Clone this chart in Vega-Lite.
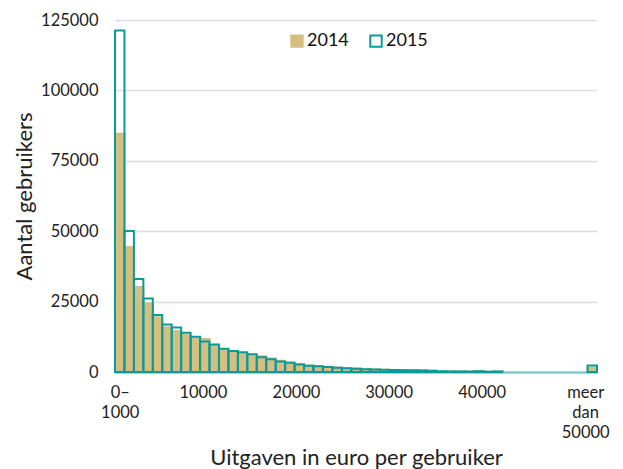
{
  "$schema": "https://vega.github.io/schema/vega-lite/v6.json",
  "autosize": {"type": "none"},
  "width": 482,
  "height": 352,
  "padding": {"left": 115, "top": 20, "right": 26, "bottom": 97},
  "background": "white",
  "config": {
    "font": "Lato",
    "view": {"stroke": null},
    "axis": {"labelColor": "#222", "titleColor": "#222", "titleFontWeight": "normal"}
  },
  "datasets": {
    "bins": [
      {"van": 0, "tot": 1000, "jaar": "2014", "aantal": 84600},
      {"van": 1000, "tot": 2000, "jaar": "2014", "aantal": 44400},
      {"van": 2000, "tot": 3000, "jaar": "2014", "aantal": 30200},
      {"van": 3000, "tot": 4000, "jaar": "2014", "aantal": 24300},
      {"van": 4000, "tot": 5000, "jaar": "2014", "aantal": 19400},
      {"van": 5000, "tot": 6000, "jaar": "2014", "aantal": 15900},
      {"van": 6000, "tot": 7000, "jaar": "2014", "aantal": 14600},
      {"van": 7000, "tot": 8000, "jaar": "2014", "aantal": 13100},
      {"van": 8000, "tot": 9000, "jaar": "2014", "aantal": 11900},
      {"van": 9000, "tot": 10000, "jaar": "2014", "aantal": 11700},
      {"van": 10000, "tot": 11000, "jaar": "2014", "aantal": 9600},
      {"van": 11000, "tot": 12000, "jaar": "2014", "aantal": 8000},
      {"van": 12000, "tot": 13000, "jaar": "2014", "aantal": 7200},
      {"van": 13000, "tot": 14000, "jaar": "2014", "aantal": 6600},
      {"van": 14000, "tot": 15000, "jaar": "2014", "aantal": 6000},
      {"van": 15000, "tot": 16000, "jaar": "2014", "aantal": 5600},
      {"van": 16000, "tot": 17000, "jaar": "2014", "aantal": 4800},
      {"van": 17000, "tot": 18000, "jaar": "2014", "aantal": 4000},
      {"van": 18000, "tot": 19000, "jaar": "2014", "aantal": 3400},
      {"van": 19000, "tot": 20000, "jaar": "2014", "aantal": 2800},
      {"van": 20000, "tot": 21000, "jaar": "2014", "aantal": 2350},
      {"van": 21000, "tot": 22000, "jaar": "2014", "aantal": 2100},
      {"van": 22000, "tot": 23000, "jaar": "2014", "aantal": 1850},
      {"van": 23000, "tot": 24000, "jaar": "2014", "aantal": 1600},
      {"van": 24000, "tot": 25000, "jaar": "2014", "aantal": 1350},
      {"van": 25000, "tot": 26000, "jaar": "2014", "aantal": 1200},
      {"van": 26000, "tot": 27000, "jaar": "2014", "aantal": 1000},
      {"van": 27000, "tot": 28000, "jaar": "2014", "aantal": 850},
      {"van": 28000, "tot": 29000, "jaar": "2014", "aantal": 800},
      {"van": 29000, "tot": 30000, "jaar": "2014", "aantal": 750},
      {"van": 30000, "tot": 31000, "jaar": "2014", "aantal": 600},
      {"van": 31000, "tot": 32000, "jaar": "2014", "aantal": 550},
      {"van": 32000, "tot": 33000, "jaar": "2014", "aantal": 500},
      {"van": 33000, "tot": 34000, "jaar": "2014", "aantal": 400},
      {"van": 34000, "tot": 35000, "jaar": "2014", "aantal": 250},
      {"van": 35000, "tot": 36000, "jaar": "2014", "aantal": 200},
      {"van": 36000, "tot": 37000, "jaar": "2014", "aantal": 180},
      {"van": 37000, "tot": 38000, "jaar": "2014", "aantal": 150},
      {"van": 38000, "tot": 39000, "jaar": "2014", "aantal": 250},
      {"van": 39000, "tot": 40000, "jaar": "2014", "aantal": 100},
      {"van": 40000, "tot": 41000, "jaar": "2014", "aantal": 150},
      {"van": 50000, "tot": 51000, "jaar": "2014", "aantal": 1600},
      {"van": 0, "tot": 1000, "jaar": "2015", "aantal": 121300},
      {"van": 1000, "tot": 2000, "jaar": "2015", "aantal": 50100},
      {"van": 2000, "tot": 3000, "jaar": "2015", "aantal": 33000},
      {"van": 3000, "tot": 4000, "jaar": "2015", "aantal": 26100},
      {"van": 4000, "tot": 5000, "jaar": "2015", "aantal": 20200},
      {"van": 5000, "tot": 6000, "jaar": "2015", "aantal": 16900},
      {"van": 6000, "tot": 7000, "jaar": "2015", "aantal": 15800},
      {"van": 7000, "tot": 8000, "jaar": "2015", "aantal": 13900},
      {"van": 8000, "tot": 9000, "jaar": "2015", "aantal": 12500},
      {"van": 9000, "tot": 10000, "jaar": "2015", "aantal": 10800},
      {"van": 10000, "tot": 11000, "jaar": "2015", "aantal": 9800},
      {"van": 11000, "tot": 12000, "jaar": "2015", "aantal": 8300},
      {"van": 12000, "tot": 13000, "jaar": "2015", "aantal": 7500},
      {"van": 13000, "tot": 14000, "jaar": "2015", "aantal": 7000},
      {"van": 14000, "tot": 15000, "jaar": "2015", "aantal": 6300},
      {"van": 15000, "tot": 16000, "jaar": "2015", "aantal": 5200},
      {"van": 16000, "tot": 17000, "jaar": "2015", "aantal": 4500},
      {"van": 17000, "tot": 18000, "jaar": "2015", "aantal": 3700},
      {"van": 18000, "tot": 19000, "jaar": "2015", "aantal": 3300},
      {"van": 19000, "tot": 20000, "jaar": "2015", "aantal": 2700},
      {"van": 20000, "tot": 21000, "jaar": "2015", "aantal": 2250},
      {"van": 21000, "tot": 22000, "jaar": "2015", "aantal": 2000},
      {"van": 22000, "tot": 23000, "jaar": "2015", "aantal": 1750},
      {"van": 23000, "tot": 24000, "jaar": "2015", "aantal": 1550},
      {"van": 24000, "tot": 25000, "jaar": "2015", "aantal": 1300},
      {"van": 25000, "tot": 26000, "jaar": "2015", "aantal": 1150},
      {"van": 26000, "tot": 27000, "jaar": "2015", "aantal": 950},
      {"van": 27000, "tot": 28000, "jaar": "2015", "aantal": 850},
      {"van": 28000, "tot": 29000, "jaar": "2015", "aantal": 800},
      {"van": 29000, "tot": 30000, "jaar": "2015", "aantal": 750},
      {"van": 30000, "tot": 31000, "jaar": "2015", "aantal": 650},
      {"van": 31000, "tot": 32000, "jaar": "2015", "aantal": 600},
      {"van": 32000, "tot": 33000, "jaar": "2015", "aantal": 550},
      {"van": 33000, "tot": 34000, "jaar": "2015", "aantal": 450},
      {"van": 34000, "tot": 35000, "jaar": "2015", "aantal": 250},
      {"van": 35000, "tot": 36000, "jaar": "2015", "aantal": 200},
      {"van": 36000, "tot": 37000, "jaar": "2015", "aantal": 200},
      {"van": 37000, "tot": 38000, "jaar": "2015", "aantal": 150},
      {"van": 38000, "tot": 39000, "jaar": "2015", "aantal": 300},
      {"van": 39000, "tot": 40000, "jaar": "2015", "aantal": 100},
      {"van": 40000, "tot": 41000, "jaar": "2015", "aantal": 200},
      {"van": 50000, "tot": 51000, "jaar": "2015", "aantal": 2300}
    ]
  },
  "data": {"name": "bins"},
  "mark": {"type": "bar", "strokeWidth": 2, "strokeJoin": "miter"},
  "encoding": {
    "x": {
      "field": "van",
      "type": "quantitative",
      "scale": {"domain": [0, 51000], "nice": false, "zero": false},
      "axis": {
        "title": "Uitgaven in euro per gebruiker",
        "titleFontSize": 22,
        "titleY": 92,
        "titleBaseline": "alphabetic",
        "values": [500, 9300, 19150, 28950, 38800, 49750],
        "labelExpr": "datum.value < 1000 ? ['0–','1000'] : datum.value > 49000 ? ['meer','dan','50000'] : datum.value < 10000 ? '10000' : datum.value < 20000 ? '20000' : datum.value < 30000 ? '30000' : '40000'",
        "labelFontSize": 16.5,
        "labelLineHeight": 20,
        "labelBaseline": "top",
        "labelPadding": 12,
        "labelFlush": false,
        "labelOverlap": false,
        "ticks": false,
        "grid": false,
        "domainColor": "#80cccc",
        "domainWidth": 2.5
      }
    },
    "x2": {"field": "tot"},
    "y": {
      "field": "aantal",
      "type": "quantitative",
      "stack": null,
      "scale": {"domain": [0, 125000], "nice": false},
      "axis": {
        "title": "Aantal gebruikers",
        "titleFontSize": 22,
        "titleX": -84,
        "titleY": 176,
        "titleAlign": "center",
        "titleBaseline": "alphabetic",
        "values": [0, 25000, 50000, 75000, 100000, 125000],
        "format": "d",
        "labelFontSize": 16.5,
        "labelPadding": 17,
        "ticks": false,
        "domain": false,
        "gridColor": "#dddddd",
        "gridWidth": 1.5
      }
    },
    "y2": {"datum": 0},
    "fill": {
      "field": "jaar",
      "type": "nominal",
      "scale": {"domain": ["2014", "2015"], "range": ["#d4bf80", "rgba(255,255,255,0)"]},
      "legend": {
        "title": null,
        "orient": "none",
        "direction": "horizontal",
        "legendX": 173,
        "legendY": 12,
        "symbolType": "square",
        "symbolSize": 130,
        "symbolStrokeWidth": 2,
        "labelFontSize": 18,
        "labelColor": "#111",
        "labelOffset": 1,
        "columnPadding": 17
      }
    },
    "stroke": {
      "field": "jaar",
      "type": "nominal",
      "scale": {"domain": ["2014", "2015"], "range": ["#d4bf80", "#0a9a9a"]},
      "legend": {
        "title": null,
        "orient": "none",
        "direction": "horizontal",
        "legendX": 173,
        "legendY": 12,
        "symbolType": "square",
        "symbolSize": 130,
        "symbolStrokeWidth": 2,
        "labelFontSize": 18,
        "labelColor": "#111",
        "labelOffset": 1,
        "columnPadding": 17
      }
    }
  }
}
